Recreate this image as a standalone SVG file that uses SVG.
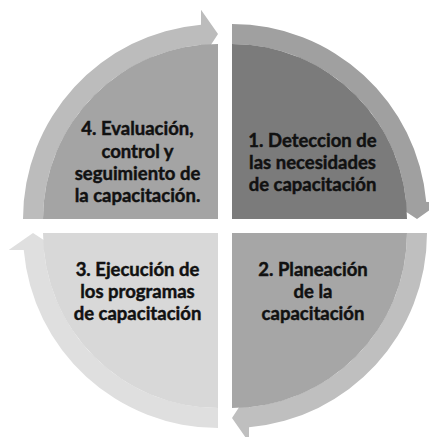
<svg xmlns="http://www.w3.org/2000/svg" width="429" height="437" viewBox="0 0 429 437">
<style>
text{font-family:Lato,"Open Sans","Liberation Sans",sans-serif;font-weight:bold;font-size:18.5px;fill:#111;stroke:#111;stroke-width:0.45px;text-anchor:middle}
</style>
<rect width="429" height="437" fill="#fff"/>
<g id="connectors">
<path id="arrow1" d="M232,24 A195,195 0 0 1 426.26,202 L441.31,202 L417,219 L391.09,202 L406.17,202 A175,175 0 0 0 232,44 Z" fill="#a0a0a0"/>
<path id="arrow2" d="M427,233 A195,195 0 0 1 249,427.26 L249,442.31 L232,418 L249,392.09 L249,407.17 A175,175 0 0 0 407,233 Z" fill="#bfbfbf"/>
<path id="arrow3" d="M218,428 A195,195 0 0 1 23.74,250 L8.69,250 L33,233 L58.91,250 L43.83,250 A175,175 0 0 0 218,408 Z" fill="#dfdfdf"/>
<path id="arrow4" d="M23,219 A195,195 0 0 1 201,24.74 L201,9.69 L218,34 L201,59.91 L201,44.83 A175,175 0 0 0 43,219 Z" fill="#bcbcbc"/>
</g>
<g id="node1">
<path d="M232,219 L232,44 A175,175 0 0 1 407,219 Z" fill="#7b7b7b"/>
<text x="312.5" y="147">1. Deteccion de</text>
<text x="312.5" y="169">las necesidades</text>
<text x="312.5" y="191">de capacitación</text>
</g>
<g id="node2">
<path d="M232,233 L407,233 A175,175 0 0 1 232,408 Z" fill="#a6a6a6"/>
<text x="313" y="276">2. Planeación</text>
<text x="313" y="298">de la</text>
<text x="313" y="320">capacitación</text>
</g>
<g id="node3">
<path d="M218,233 L218,408 A175,175 0 0 1 43,233 Z" fill="#d8d8d8"/>
<text x="137.5" y="276">3. Ejecución de</text>
<text x="137.5" y="298">los programas</text>
<text x="137.5" y="320">de capacitación</text>
</g>
<g id="node4">
<path d="M218,219 L43,219 A175,175 0 0 1 218,44 Z" fill="#a4a4a4"/>
<text x="137.5" y="135">4. Evaluación,</text>
<text x="137.5" y="157.5">control y</text>
<text x="137.5" y="180">seguimiento de</text>
<text x="137.5" y="202">la capacitación.</text>
</g>
</svg>
